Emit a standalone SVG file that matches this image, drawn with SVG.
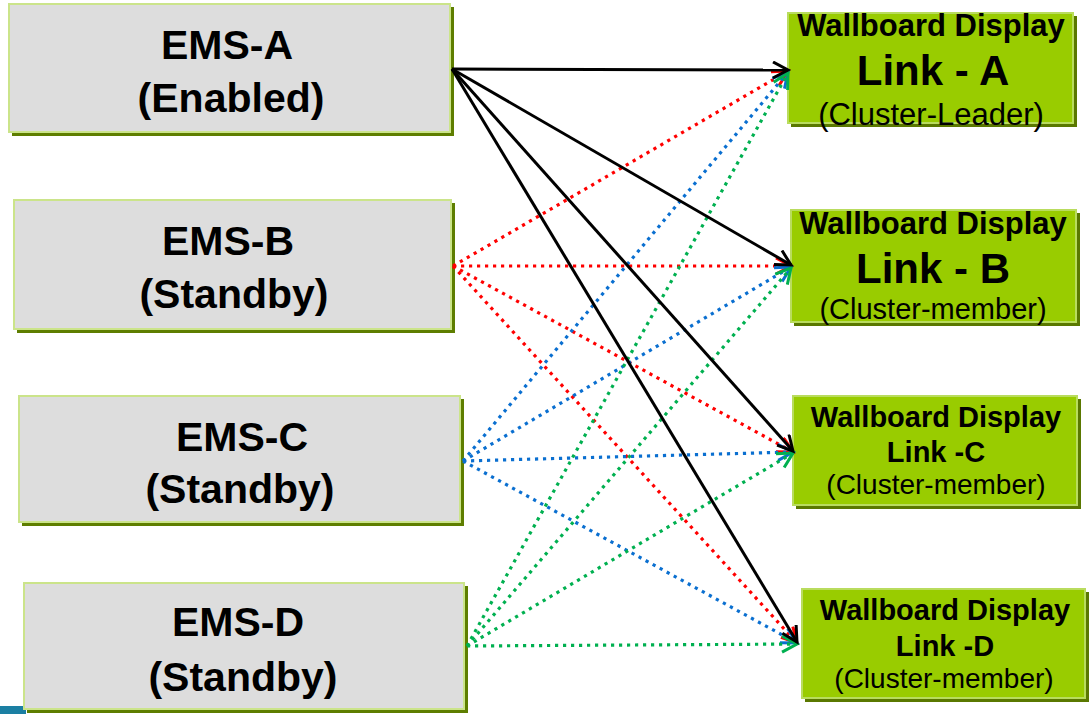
<svg xmlns="http://www.w3.org/2000/svg" width="1092" height="714" viewBox="0 0 1092 714">
  <style>
    .ems-shadow { fill: #5E7E00; }
    .ems-box { fill: #DDDDDD; stroke: #CBE48A; stroke-width: 2; }
    .wb-shadow { fill: #5A7800; }
    .wb-box { fill: #99CC00; stroke: #B9DC5E; stroke-width: 2; }
    .ems-text { font-family: "Liberation Sans", Arial, sans-serif; font-weight: bold; font-size: 41px; fill: #000; text-anchor: middle; }
    .wb-title { font-family: "Liberation Sans", Arial, sans-serif; font-weight: bold; fill: #000; text-anchor: middle; }
    .wb-sub { font-family: "Liberation Sans", Arial, sans-serif; fill: #000; text-anchor: middle; }
    .link { fill: none; stroke-width: 3.2; }
    .solid { stroke: #000; stroke-width: 3; }
    .red { stroke: #FF0000; stroke-dasharray: 3.2 4.8; }
    .blue { stroke: #0A6FD0; stroke-dasharray: 3.2 4.8; }
    .green { stroke: #00B050; stroke-dasharray: 3.2 4.8; }
  </style>
  <defs>
    <marker id="arrow-black" markerUnits="userSpaceOnUse" markerWidth="22" markerHeight="22" refX="16" refY="9" orient="auto">
      <path d="M1,1 L16,9 L1,17" fill="none" stroke="#000" stroke-width="3"/>
    </marker>
    <marker id="arrow-red" markerUnits="userSpaceOnUse" markerWidth="22" markerHeight="22" refX="16" refY="9" orient="auto">
      <path d="M1,1 L16,9 L1,17" fill="none" stroke="#FF0000" stroke-width="3"/>
    </marker>
    <marker id="arrow-blue" markerUnits="userSpaceOnUse" markerWidth="22" markerHeight="22" refX="16" refY="9" orient="auto">
      <path d="M1,1 L16,9 L1,17" fill="none" stroke="#0A6FD0" stroke-width="3"/>
    </marker>
    <marker id="arrow-green" markerUnits="userSpaceOnUse" markerWidth="22" markerHeight="22" refX="16" refY="9" orient="auto">
      <path d="M1,1 L16,9 L1,17" fill="none" stroke="#00B050" stroke-width="3"/>
    </marker>
  </defs>

  <rect width="1092" height="714" fill="#FFFFFF"/>
  <!-- slide footer strip -->
  <rect x="0" y="706" width="26" height="8" fill="#1B7FA3"/>

  <!-- EMS servers -->
  <g id="ems-a">
    <rect class="ems-shadow" x="12" y="7" width="442" height="129"/>
    <rect class="ems-box" x="9" y="4" width="441" height="128"/>
    <text class="ems-text" x="227" y="59">EMS-A</text>
    <text class="ems-text" x="231" y="112">(Enabled)</text>
  </g>
  <g id="ems-b">
    <rect class="ems-shadow" x="17" y="203" width="438" height="130"/>
    <rect class="ems-box" x="14" y="200" width="437" height="129"/>
    <text class="ems-text" x="228" y="255">EMS-B</text>
    <text class="ems-text" x="234" y="308">(Standby)</text>
  </g>
  <g id="ems-c">
    <rect class="ems-shadow" x="22" y="399" width="442" height="127"/>
    <rect class="ems-box" x="19" y="396" width="441" height="126"/>
    <text class="ems-text" x="242" y="451">EMS-C</text>
    <text class="ems-text" x="240" y="503">(Standby)</text>
  </g>
  <g id="ems-d">
    <rect class="ems-shadow" x="27" y="586" width="441" height="127"/>
    <rect class="ems-box" x="24" y="583" width="440" height="126"/>
    <text class="ems-text" x="238" y="636">EMS-D</text>
    <text class="ems-text" x="243" y="691">(Standby)</text>
  </g>

  <!-- Wallboard display links -->
  <g id="link-a">
    <rect class="wb-shadow" x="791" y="16" width="286" height="111"/>
    <rect class="wb-box" x="788" y="13" width="285" height="110"/>
    <text class="wb-title" x="931" y="36" font-size="31">Wallboard Display</text>
    <text class="wb-title" x="933" y="85" font-size="42">Link - A</text>
    <text class="wb-sub" x="931" y="125" font-size="31">(Cluster-Leader)</text>
  </g>
  <g id="link-b">
    <rect class="wb-shadow" x="794" y="213" width="286" height="113"/>
    <rect class="wb-box" x="791" y="210" width="285" height="112"/>
    <text class="wb-title" x="933" y="234" font-size="31">Wallboard Display</text>
    <text class="wb-title" x="933" y="283" font-size="42">Link - B</text>
    <text class="wb-sub" x="933" y="319" font-size="29">(Cluster-member)</text>
  </g>
  <g id="link-c">
    <rect class="wb-shadow" x="796" y="399" width="285" height="110"/>
    <rect class="wb-box" x="793" y="396" width="284" height="109"/>
    <text class="wb-title" x="936" y="427" font-size="29">Wallboard Display</text>
    <text class="wb-title" x="936" y="462" font-size="29">Link -C</text>
    <text class="wb-sub" x="936" y="494" font-size="28">(Cluster-member)</text>
  </g>
  <g id="link-d">
    <rect class="wb-shadow" x="805" y="592" width="284" height="110"/>
    <rect class="wb-box" x="802" y="589" width="283" height="109"/>
    <text class="wb-title" x="945" y="620" font-size="29">Wallboard Display</text>
    <text class="wb-title" x="945" y="656" font-size="29">Link -D</text>
    <text class="wb-sub" x="944" y="688" font-size="28">(Cluster-member)</text>
  </g>

  <!-- Connectors: every EMS reaches every display link -->
  <g id="connectors">
    <g id="from-ems-b">
      <line class="link red" x1="453" y1="266" x2="788" y2="71" marker-end="url(#arrow-red)"/>
      <line class="link red" x1="453" y1="266" x2="791" y2="266" marker-end="url(#arrow-red)"/>
      <line class="link red" x1="453" y1="266" x2="793" y2="452" marker-end="url(#arrow-red)"/>
      <line class="link red" x1="453" y1="266" x2="797" y2="643" marker-end="url(#arrow-red)"/>
    </g>
    <g id="from-ems-c">
      <line class="link blue" x1="463" y1="461" x2="788" y2="72" marker-end="url(#arrow-blue)"/>
      <line class="link blue" x1="463" y1="461" x2="791" y2="267" marker-end="url(#arrow-blue)"/>
      <line class="link blue" x1="463" y1="461" x2="793" y2="452" marker-end="url(#arrow-blue)"/>
      <line class="link blue" x1="463" y1="461" x2="797" y2="643" marker-end="url(#arrow-blue)"/>
    </g>
    <g id="from-ems-d">
      <line class="link green" x1="467" y1="646" x2="788" y2="73" marker-end="url(#arrow-green)"/>
      <line class="link green" x1="467" y1="646" x2="791" y2="268" marker-end="url(#arrow-green)"/>
      <line class="link green" x1="467" y1="646" x2="793" y2="453" marker-end="url(#arrow-green)"/>
      <line class="link green" x1="467" y1="646" x2="797" y2="644" marker-end="url(#arrow-green)"/>
    </g>
    <g id="from-ems-a">
      <line class="link solid" x1="452" y1="69" x2="788" y2="70" marker-end="url(#arrow-black)"/>
      <line class="link solid" x1="452" y1="69" x2="791" y2="265" marker-end="url(#arrow-black)"/>
      <line class="link solid" x1="452" y1="69" x2="793" y2="451" marker-end="url(#arrow-black)"/>
      <line class="link solid" x1="452" y1="69" x2="797" y2="642" marker-end="url(#arrow-black)"/>
    </g>
  </g>
</svg>
